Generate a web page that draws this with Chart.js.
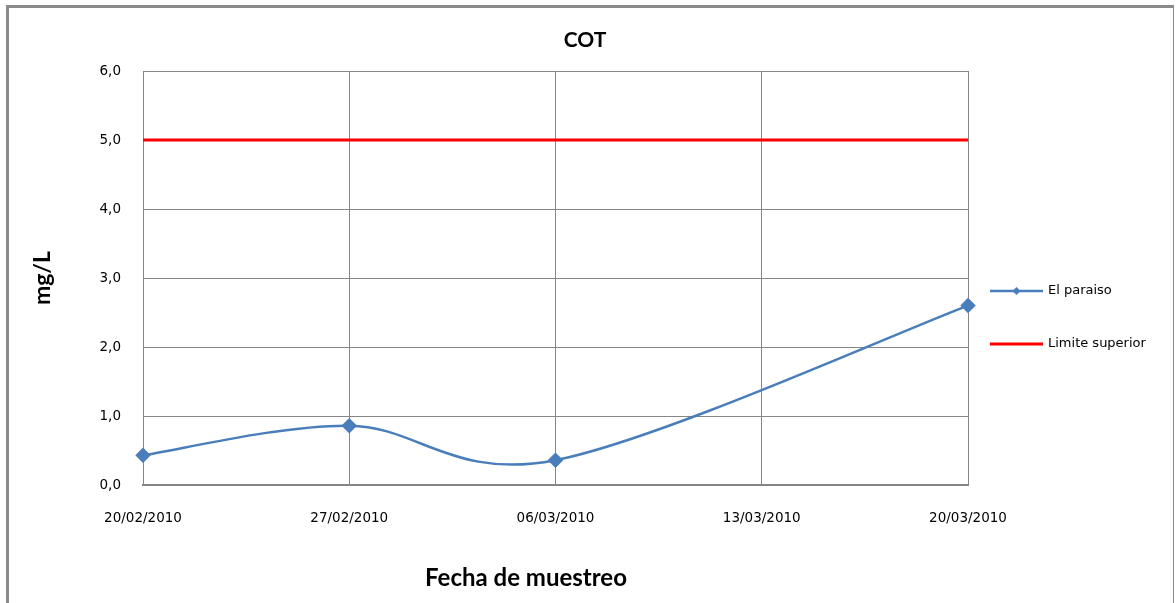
<!DOCTYPE html>
<html>
<head>
<meta charset="utf-8">
<script src="https://cdn.jsdelivr.net/npm/chart.js@4/dist/chart.umd.min.js"></script>
<style>
  html, body { margin: 0; padding: 0; background: #fff; }
  #wrap { position: relative; width: 1176px; height: 603px; overflow: hidden; }
  #frame { position: absolute; left: 6px; top: 5px; width: 1164px; height: 620px;
           border-left: 3px solid #8a8a8a; border-top: 3px solid #8a8a8a; border-right: 1px solid #8a8a8a; }
  #chart { position: absolute; left: 0; top: 0; }
</style>
</head>
<body>
<div id="wrap">
  <div id="frame"></div>
  <canvas id="chart" width="1176" height="603"></canvas>
</div>
<script>
// ticks on the date axis, one per week
const tickLabels = ['20/02/2010', '27/02/2010', '06/03/2010', '13/03/2010', '20/03/2010'];
// sampling days, counted from 20/02/2010
const sampleDays = [0, 7, 14, 28];
const elParaiso = [0.43, 0.86, 0.36, 2.60];
const limitDays = [0, 28];
const limiteSuperior = [5.0, 5.0];

const GRID = '#868686';
const BLUE = '#4a7ebb';
const RED = '#ff0000';

function toPoints(xs, ys) {
  return xs.map((x, i) => ({ x: x, y: ys[i] }));
}

// excel style smoothing: control points at 1/6 of the neighbour span
const excelSmooth = {
  id: 'excelSmooth',
  beforeDatasetDraw(chart, args) {
    const meta = args.meta;
    if (!meta.dataset || !chart.data.datasets[args.index].smooth) return;
    const pts = meta.data;
    pts.forEach((p, i) => {
      const prev = pts[i - 1] || p;
      const next = pts[i + 1] || p;
      const dx = (next.x - prev.x) / 6, dy = (next.y - prev.y) / 6;
      p.cp1x = p.x - dx; p.cp1y = p.y - dy;
      p.cp2x = p.x + dx; p.cp2y = p.y + dy;
    });
    meta.dataset._pointsUpdated = true;
  }
};

// draws the chart title, the x title and the legend on the right of the plot
const extras = {
  id: 'extras',
  afterDraw(chart) {
    const ctx = chart.ctx;
    const a = chart.chartArea;
    ctx.save();
    ctx.fillStyle = '#000';
    ctx.textAlign = 'center';
    ctx.textBaseline = 'middle';
    ctx.font = 'bold 21px Lato';
    ctx.fillText('COT', 585, 40);
    ctx.font = 'bold 24px Lato';
    ctx.fillText('Fecha de muestreo', a.left + 383, 578);

    const items = chart.data.datasets;
    const x0 = a.right + 22, x1 = a.right + 75;
    items.forEach((ds, i) => {
      const y = a.top + 220 + i * 53;
      ctx.strokeStyle = ds.borderColor;
      ctx.lineWidth = ds.borderWidth;
      ctx.beginPath();
      ctx.moveTo(x0, y);
      ctx.lineTo(x1, y);
      ctx.stroke();
      if (ds.pointRadius > 0) {
        const cx = (x0 + x1) / 2, r = 4;
        ctx.fillStyle = ds.borderColor;
        ctx.beginPath();
        ctx.moveTo(cx, y - r);
        ctx.lineTo(cx + r, y);
        ctx.lineTo(cx, y + r);
        ctx.lineTo(cx - r, y);
        ctx.closePath();
        ctx.fill();
      }
      ctx.fillStyle = '#000';
      ctx.font = '13px "DejaVu Sans"';
      ctx.textAlign = 'left';
      ctx.fillText(ds.label, x1 + 5, y);
    });
    ctx.restore();
  }
};

new Chart(document.getElementById('chart'), {
  type: 'line',
  data: {
    datasets: [
      {
        label: 'El paraiso',
        data: toPoints(sampleDays, elParaiso),
        smooth: true,
        clip: false,
        borderColor: BLUE,
        backgroundColor: BLUE,
        borderWidth: 2.5,
        tension: 0.33,
        pointStyle: 'rectRot',
        pointRadius: 6,
        pointHoverRadius: 6
      },
      {
        label: 'Limite superior',
        data: toPoints(limitDays, limiteSuperior),
        borderColor: RED,
        backgroundColor: RED,
        borderWidth: 3,
        pointRadius: 0
      }
    ]
  },
  plugins: [excelSmooth, extras],
  options: {
    responsive: false,
    animation: false,
    layout: { padding: { left: 9, right: 208, top: 71, bottom: 0 } },
    plugins: {
      legend: { display: false },
      tooltip: { enabled: false },
      title: { display: false }
    },
    scales: {
      x: {
        type: 'linear',
        min: 0,
        max: 28,
        afterFit: (s) => { s.height = 118; },
        grid: { color: GRID, lineWidth: 1, drawTicks: false },
        border: { color: GRID, width: 2 },
        ticks: {
          stepSize: 7,
          padding: 25,
          maxRotation: 0,
          color: '#000',
          font: { family: 'DejaVu Sans', size: 13.5 },
          callback: (v) => tickLabels[v / 7]
        }
      },
      y: {
        min: 0,
        max: 6,
        afterFit: (s) => { s.width = 134; },
        grid: { color: GRID, lineWidth: 1, drawTicks: false },
        border: { color: GRID, width: 1 },
        title: {
          display: true,
          text: 'mg/L',
          color: '#000',
          font: { family: 'Lato', size: 23, weight: 'bold' },
          padding: { top: 20 }
        },
        ticks: {
          stepSize: 1,
          padding: 22,
          color: '#000',
          font: { family: 'DejaVu Sans', size: 13.5 },
          callback: (v) => v.toFixed(1).replace('.', ',')
        }
      }
    }
  }
});
</script>
</body>
</html>
